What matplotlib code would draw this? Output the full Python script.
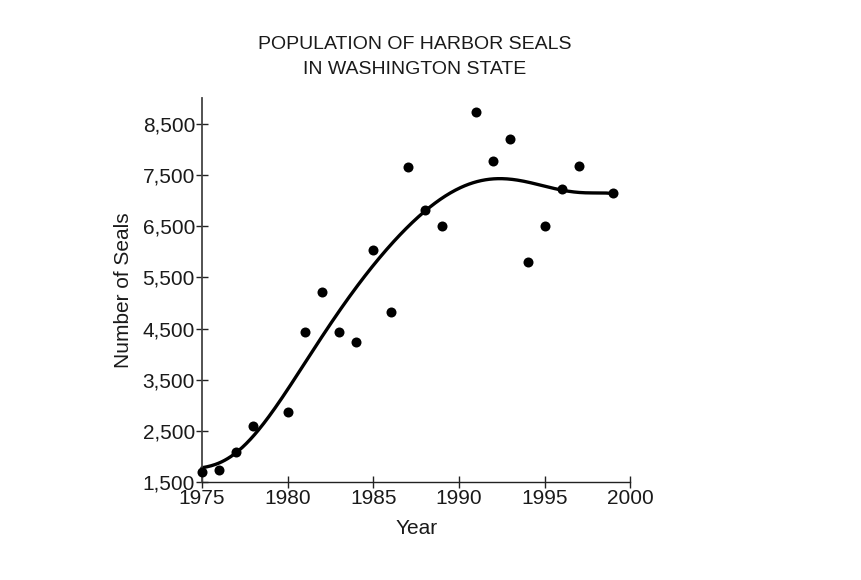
import numpy as np
import matplotlib
matplotlib.use("Agg")
import matplotlib.pyplot as plt

plt.rcParams['font.family'] = ['Liberation Sans', 'DejaVu Sans']

# Observed data points
years = [1975, 1976, 1977, 1978, 1980, 1981, 1982, 1983, 1984, 1985, 1986, 1987,
         1988, 1989, 1991, 1992, 1993, 1994, 1995, 1996, 1997, 1999]
seals = [1700, 1740, 2090, 2600, 2870, 4440, 5220, 4440, 4240, 6030, 4820, 7650,
         6820, 6510, 8730, 7775, 8200, 5800, 6510, 7220, 7670, 7140]

# Trend curve values
curve_years = [1975, 1976, 1977, 1978, 1979, 1980, 1981, 1982, 1983, 1984, 1985, 1986,
               1987, 1988, 1989, 1990, 1991, 1992, 1993, 1994, 1995, 1996, 1997, 1998, 1999]
curve_vals = [1780, 1880, 2090, 2400, 2820, 3280, 3830, 4400, 4850, 5280, 5710, 6100,
              6480, 6820, 7080, 7240, 7350, 7400, 7400, 7370, 7290, 7210, 7160, 7130, 7140]

yticks = [1500, 2500, 3500, 4500, 5500, 6500, 7500, 8500]
ytick_labels = ["1,500", "2,500", "3,500", "4,500", "5,500", "6,500", "7,500", "8,500"]
xticks = [1975, 1980, 1985, 1990, 1995, 2000]


def smooth_curve(x, y, deg=8, n=400):
    x = np.asarray(x, float); y = np.asarray(y, float)
    t = (x - x.mean()) / (x.max() - x.min())
    coef = np.polyfit(t, y, deg)
    xs = np.linspace(x[0], x[-1], n)
    ts = (xs - x.mean()) / (x.max() - x.min())
    return xs, np.polyval(coef, ts)


fig = plt.figure(figsize=(8.62, 5.8), dpi=100)
ax = fig.add_axes([0.2343, 0.1685, 0.4971, 0.6625])

xs, ys = smooth_curve(curve_years, curve_vals)
ax.plot(xs, ys, color='black', lw=2.4, solid_capstyle='round', clip_on=False, zorder=2)
ax.scatter(years, seals, s=52, color='black', zorder=3, clip_on=False, linewidths=0)

ax.set_xlim(1975, 2000)
ax.set_ylim(1500, 9000)
ax.set_xticks(xticks)
ax.set_xticklabels([str(t) for t in xticks])
ax.set_yticks(yticks)
ax.set_yticklabels(ytick_labels)

for s in ['top', 'right']:
    ax.spines[s].set_visible(False)
ax.spines['left'].set_color('#444444')
ax.spines['bottom'].set_color('#222222')
ax.spines['left'].set_linewidth(1.3)
ax.spines['bottom'].set_linewidth(1.0)

ax.tick_params(axis='both', direction='inout', length=8, width=1.0, labelsize=15,
               colors='#222222', labelcolor='#1a1a1a')
ax.tick_params(axis='y', pad=1)
ax.tick_params(axis='x', pad=1)

ax.set_xlabel('Year', fontsize=15, color='#1a1a1a', labelpad=8)
ax.set_ylabel('Number of Seals', fontsize=15, color='#1a1a1a', labelpad=7)

fig.text(0.481, 0.924, 'POPULATION OF HARBOR SEALS', ha='center', va='center',
         fontsize=14, color='#1a1a1a')
fig.text(0.481, 0.881, 'IN WASHINGTON STATE', ha='center', va='center',
         fontsize=14, color='#1a1a1a')

fig.savefig('out.png', dpi=100)
